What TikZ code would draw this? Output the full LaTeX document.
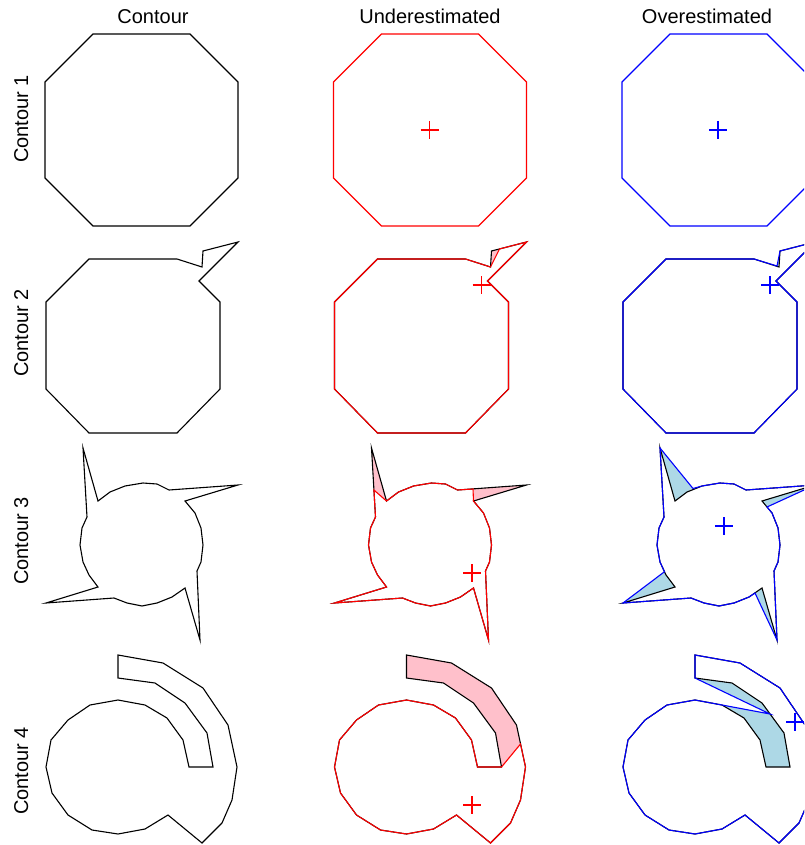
\documentclass[tikz,border=0pt]{standalone}
\usepackage{fontspec}
\setmainfont{Liberation Sans}
\usepackage{xcolor}
\definecolor{UR}{RGB}{255,0,0}
\definecolor{UP}{RGB}{255,192,203}
\definecolor{OB}{RGB}{0,0,255}
\definecolor{OL}{RGB}{173,216,230}

% original contours (first column, pixel units)
\newcommand{\contA}{(93,34) -- (190,34) -- (238,82) -- (238,178) -- (190,226) -- (93,226) -- (45,178) -- (45,82) -- cycle}
\newcommand{\contB}{(89,259) -- (177,259) -- (202,267) -- (203,251) -- (238,242) -- (199,281) -- (220,302) -- (220,389) -- (177,433) -- (89,433) -- (46,389) -- (46,302) -- cycle}
\newcommand{\contC}{(83,448) -- (98,501) -- (110,492) -- (125,486) -- (143,483) -- (157,484) -- (169,490) -- (238,485) -- (185,501) -- (195,513) -- (201,528) -- (203,545) -- (201,562) -- (197,571) -- (200,640) -- (185,588) -- (172,597) -- (157,603) -- (142,606) -- (127,603) -- (114,598) -- (46,603) -- (98,587) -- (89,575) -- (83,562) -- (80,545) -- (82,528) -- (87,517) -- cycle}
\newcommand{\contD}{(118,655) -- (163,663) -- (203,688) -- (228,725) -- (237,767) -- (232,800) -- (222,823) -- (202,843) -- (168,815) -- (145,829) -- (118,834) -- (92,830) -- (68,815) -- (52,793) -- (46,767) -- (51,740) -- (68,720) -- (90,705) -- (118,700) -- (145,705) -- (167,718) -- (183,740) -- (189,767) -- (213,767) -- (207,733) -- (185,703) -- (155,683) -- (118,678) -- cycle}

\begin{document}
\begin{tikzpicture}[x=1pt, y=-1pt,
  orig/.style={draw=black, line width=1.1pt, line join=miter},
  est/.style={draw=#1, line width=1.1pt, line join=miter},
  gap/.style={fill=#1, draw=none},
  ctr/.style={draw=#1, line width=1.2pt},
  hdr/.style={anchor=base, font=\fontsize{20}{24}\selectfont},
  rowlab/.style={anchor=base, rotate=90, font=\fontsize{20}{24}\selectfont}
]
\useasboundingbox (0,0) rectangle (804,845);
\clip (0,0) rectangle (804,845);

% headers
\node[hdr] (hc) at (153,24) {Contour};
\node[hdr] (hu) at (430,24) {Underestimated};
\node[hdr] (ho) at (707,24) {Overestimated};

\node[rowlab] (r1) at (28,119) {Contour 1};
\node[rowlab] (r2) at (28,333) {Contour 2};
\node[rowlab] (r3) at (28,541) {Contour 3};
\node[rowlab] (r4) at (28,771) {Contour 4};

% column 1: contours
\draw[orig] \contA;
\draw[orig] \contB;
\draw[orig] \contC;
\draw[orig] \contD;

% column 2: underestimated
\begin{scope}[xshift=288.5pt]
  \draw[est=UR] \contA;
  \draw[ctr=UR] (141,130) +(-9,0) -- +(9,0) +(0,-9) -- +(0,9);

  \fill[gap=UP] (202,267) -- (203,251) -- (211,249) -- cycle;
  \draw[orig] \contB;
  \draw[est=UR] (89,259) -- (177,259) -- (202,267) -- (211,249) -- (238,242) -- (199,281) -- (220,302) -- (220,389) -- (177,433) -- (89,433) -- (46,389) -- (46,302) -- cycle;
  \draw[ctr=UR] (193,285) +(-9,0) -- +(9,0) +(0,-9) -- +(0,9);

  \fill[gap=UP] (85.4,490) -- (83,448) -- (98,501) -- cycle;
  \fill[gap=UP] (184.5,489) -- (238,485) -- (185,501) -- cycle;
  \draw[orig] \contC;
  \draw[est=UR] (85.4,490) -- (98,501) -- (110,492) -- (125,486) -- (143,483) -- (157,484) -- (169,490) -- (184.5,489) -- (185,501) -- (195,513) -- (201,528) -- (203,545) -- (201,562) -- (197,571) -- (200,640) -- (185,588) -- (172,597) -- (157,603) -- (142,606) -- (127,603) -- (114,598) -- (46,603) -- (98,587) -- (89,575) -- (83,562) -- (80,545) -- (82,528) -- (87,517) -- cycle;
  \draw[ctr=UR] (183.5,573) +(-9,0) -- +(9,0) +(0,-9) -- +(0,9);

  \fill[gap=UP] (118,655) -- (163,663) -- (203,688) -- (228,725) -- (232,744) -- (213,767) -- (207,733) -- (185,703) -- (155,683) -- (118,678) -- cycle;
  \draw[orig] \contD;
  \draw[est=UR] (232,744) -- (237,767) -- (232,800) -- (222,823) -- (202,843) -- (168,815) -- (145,829) -- (118,834) -- (92,830) -- (68,815) -- (52,793) -- (46,767) -- (51,740) -- (68,720) -- (90,705) -- (118,700) -- (145,705) -- (167,718) -- (183,740) -- (189,767) -- (213,767) -- cycle;
  \draw[ctr=UR] (183.5,805) +(-9,0) -- +(9,0) +(0,-9) -- +(0,9);
\end{scope}

% column 3: overestimated
\begin{scope}[xshift=577pt]
  \draw[est=OB] \contA;
  \draw[ctr=OB] (141,130) +(-9,0) -- +(9,0) +(0,-9) -- +(0,9);

  \fill[gap=OL] (200,266) -- (202,267) -- (203,251) -- cycle;
  \draw[orig] \contB;
  \draw[est=OB] (89,259) -- (177,259) -- (200,266) -- (203,251) -- (238,242) -- (199,281) -- (220,302) -- (220,389) -- (177,433) -- (89,433) -- (46,389) -- (46,302) -- cycle;
  \draw[ctr=OB] (193,285) +(-9,0) -- +(9,0) +(0,-9) -- +(0,9);

  \fill[gap=OL] (83,448) -- (98,501) -- (110,492) -- (116,488.5) -- cycle;
  \fill[gap=OL] (238,485) -- (185,501) -- (190,507) -- cycle;
  \fill[gap=OL] (200,640) -- (185,588) -- (178,593) -- cycle;
  \fill[gap=OL] (46,603) -- (98,587) -- (89,575) -- (87.5,571.7) -- cycle;
  \draw[orig] \contC;
  \draw[est=OB] (83,448) -- (116,488.5) -- (125,486) -- (143,483) -- (157,484) -- (169,490) -- (238,485) -- (190,507) -- (195,513) -- (201,528) -- (203,545) -- (201,562) -- (197,571) -- (200,640) -- (178,593) -- (172,597) -- (157,603) -- (142,606) -- (127,603) -- (114,598) -- (46,603) -- (87.5,571.7) -- (83,562) -- (80,545) -- (82,528) -- (87,517) -- cycle;
  \draw[ctr=OB] (147,526) +(-9,0) -- +(9,0) +(0,-9) -- +(0,9);

  \fill[gap=OL] (118,678) -- (155,683) -- (185,703) -- (193,714) -- cycle;
  \fill[gap=OL] (145,705) -- (167,718) -- (183,740) -- (189,767) -- (213,767) -- (207,733) -- (193,714) -- cycle;
  \draw[orig] \contD;
  \draw[est=OB] (118,655) -- (163,663) -- (203,688) -- (228,725) -- (237,767) -- (232,800) -- (222,823) -- (202,843) -- (168,815) -- (145,829) -- (118,834) -- (92,830) -- (68,815) -- (52,793) -- (46,767) -- (51,740) -- (68,720) -- (90,705) -- (118,700) -- (145,705) -- (193,714) -- (118,678) -- cycle;
  \draw[ctr=OB] (218,722) +(-9,0) -- +(9,0) +(0,-9) -- +(0,9);
\end{scope}
\end{tikzpicture}
\end{document}
